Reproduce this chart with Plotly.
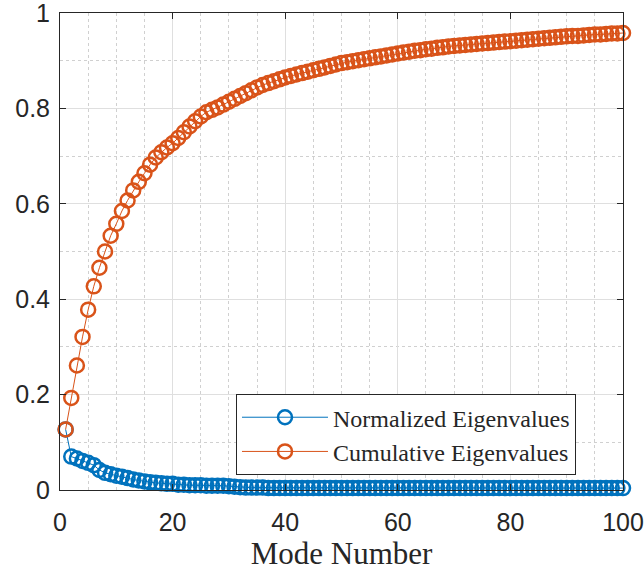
import plotly.graph_objects as go

modes = list(range(1, 101))

cumulative = [
    0.127, 0.193, 0.261, 0.321, 0.378, 0.427, 0.466, 0.500, 0.533, 0.558,
    0.585, 0.607, 0.628, 0.646, 0.664, 0.682, 0.697, 0.708, 0.718, 0.727,
    0.738, 0.750, 0.762, 0.773, 0.783, 0.792, 0.797, 0.802, 0.808, 0.814,
    0.820, 0.826, 0.832, 0.838, 0.844, 0.849, 0.853, 0.857, 0.861, 0.865,
    0.868, 0.871, 0.874, 0.877, 0.880, 0.883, 0.886, 0.889, 0.892, 0.895,
    0.897, 0.899, 0.901, 0.903, 0.905, 0.907, 0.909, 0.911, 0.913, 0.915,
    0.917, 0.919, 0.921, 0.922, 0.924, 0.925, 0.927, 0.928, 0.930, 0.931,
    0.932, 0.933, 0.934, 0.935, 0.936, 0.937, 0.938, 0.939, 0.940, 0.941,
    0.942, 0.943, 0.944, 0.945, 0.946, 0.947, 0.948, 0.949, 0.950, 0.951,
    0.952, 0.952, 0.953, 0.954, 0.955, 0.955, 0.956, 0.957, 0.957, 0.958,
]

normalized = [
    0.127, 0.070, 0.066, 0.061, 0.057, 0.052, 0.042, 0.036, 0.033, 0.030,
    0.028, 0.025, 0.022, 0.020, 0.018, 0.016, 0.015, 0.014, 0.013, 0.013,
    0.011, 0.011, 0.010, 0.010, 0.010, 0.009, 0.009, 0.009, 0.009, 0.008,
    0.007, 0.006, 0.005, 0.005, 0.005, 0.005, 0.004, 0.004, 0.004, 0.004,
    0.004, 0.004, 0.004, 0.004, 0.004, 0.004, 0.004, 0.004, 0.004, 0.004,
    0.004, 0.004, 0.004, 0.004, 0.004, 0.004, 0.004, 0.004, 0.004, 0.004,
    0.004, 0.004, 0.004, 0.004, 0.004, 0.004, 0.004, 0.004, 0.004, 0.004,
    0.004, 0.004, 0.004, 0.004, 0.004, 0.004, 0.004, 0.004, 0.004, 0.004,
    0.004, 0.004, 0.004, 0.004, 0.004, 0.004, 0.004, 0.004, 0.004, 0.004,
    0.004, 0.004, 0.004, 0.004, 0.004, 0.004, 0.004, 0.004, 0.004, 0.004,
]

x_ticks = [0, 20, 40, 60, 80, 100]
y_ticks = [0, 0.2, 0.4, 0.6, 0.8, 1]
y_tick_text = ["0", "0.2", "0.4", "0.6", "0.8", "1"]

BLUE = "#0072BD"
ORANGE = "#D95319"

fig = go.Figure()
for name, vals, col in [("Normalized Eigenvalues", normalized, BLUE),
                        ("Cumulative Eigenvalues", cumulative, ORANGE)]:
    fig.add_trace(go.Scatter(
        x=modes, y=vals, name=name, mode="lines+markers",
        line=dict(color=col, width=1),
        marker=dict(symbol="circle-open", size=14, color=col,
                    line=dict(color=col, width=2.5)),
        cliponaxis=False,
    ))

axis_common = dict(
    showline=True, linecolor="#262626", linewidth=1, mirror="ticks",
    ticks="inside", ticklen=6, tickcolor="#262626", tickwidth=1,
    showgrid=True, gridcolor="#dfdfdf", gridwidth=1,
    zeroline=False, automargin=False, ticklabeloverflow="allow",
    tickfont=dict(family="Liberation Sans, Arial", size=25, color="#262626"),
)

fig.update_xaxes(
    range=[0, 100], tickvals=x_ticks, ticklabelstandoff=10,
    minor=dict(dtick=5, showgrid=True, gridcolor="#d0d0d0", griddash="dot",
               gridwidth=1, ticks=""),
    title=dict(text="Mode Number",
               font=dict(family="Liberation Serif, Times New Roman", size=31, color="#262626"),
               standoff=12),
    **axis_common,
)
fig.update_yaxes(
    range=[0, 1], tickvals=y_ticks, ticktext=y_tick_text, ticklabelstandoff=4,
    minor=dict(dtick=0.1, showgrid=True, gridcolor="#d0d0d0", griddash="dot",
               gridwidth=1, ticks=""),
    **axis_common,
)

fig.update_layout(
    width=644, height=571,
    margin=dict(l=60, r=21, t=13, b=81),
    plot_bgcolor="white", paper_bgcolor="white",
    showlegend=True,
    legend=dict(
        x=0.3126, y=0.201, xanchor="left", yanchor="top",
        bgcolor="white", bordercolor="#262626", borderwidth=1,
        font=dict(family="Liberation Serif, Times New Roman", size=24, color="#262626"),
        itemwidth=86, tracegroupgap=0,
    ),
)

fig.write_html("out.html")
